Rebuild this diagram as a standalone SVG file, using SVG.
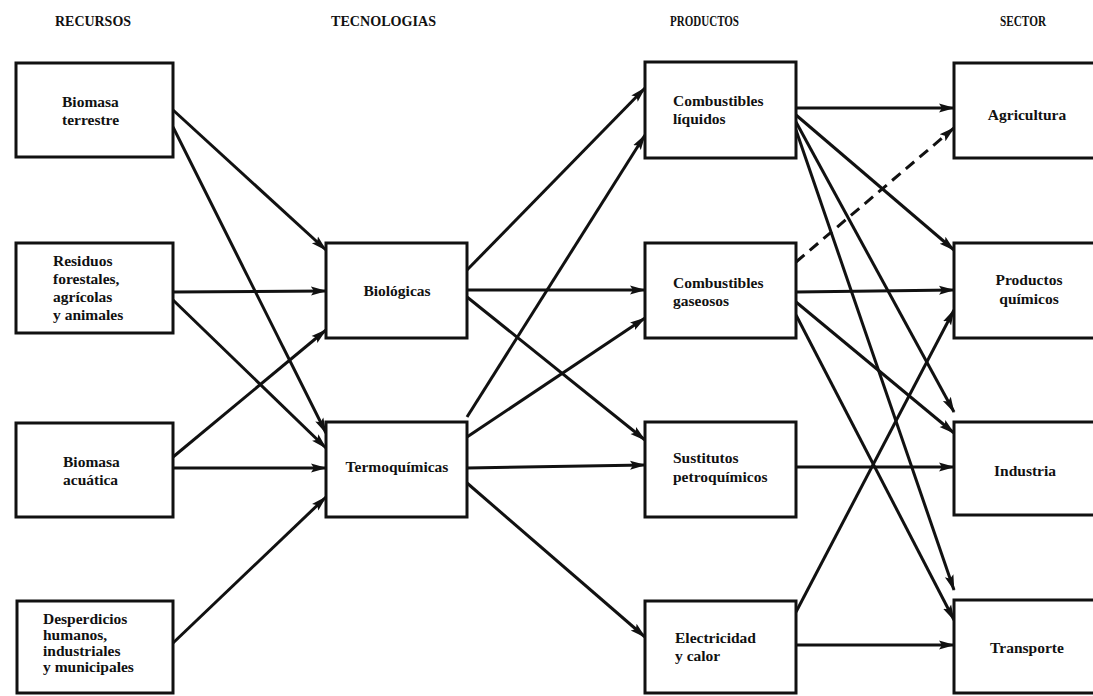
<svg xmlns="http://www.w3.org/2000/svg" width="1093" height="696" viewBox="0 0 1093 696">
<defs>
<marker id="ah" markerUnits="userSpaceOnUse" markerWidth="18" markerHeight="12" refX="15" refY="6" orient="auto">
<path d="M0,1.5 L16,6 L0,10.5 L3,6 z" fill="#111"/>
</marker>
<style>
.box{fill:#fff;stroke:#111;stroke-width:3}
.t{font-family:"Liberation Serif","Times New Roman",serif;font-weight:bold;font-size:15.5px;fill:#111}
.h{font-family:"Liberation Serif","Times New Roman",serif;font-weight:bold;font-size:14.5px;fill:#111}
.c{text-anchor:middle}
.ln{stroke:#111;stroke-width:3;fill:none;marker-end:url(#ah)}
.dash{stroke-dasharray:11 7}
</style>
</defs>
<rect width="1093" height="696" fill="#fff"/>
<g id="headers">
<text class="h" x="55" y="26" textLength="76" lengthAdjust="spacingAndGlyphs">RECURSOS</text>
<text class="h" x="331" y="26" textLength="105" lengthAdjust="spacingAndGlyphs">TECNOLOGIAS</text>
<text class="h" x="670" y="26" textLength="69" lengthAdjust="spacingAndGlyphs">PRODUCTOS</text>
<text class="h" x="1000" y="26" textLength="46" lengthAdjust="spacingAndGlyphs">SECTOR</text>
</g>
<g id="connectors">
<line class="ln" x1="173" y1="110" x2="326" y2="250"/>
<line class="ln" x1="173" y1="127" x2="326" y2="433"/>
<line class="ln" x1="173" y1="292" x2="326" y2="291"/>
<line class="ln" x1="173" y1="300" x2="326" y2="448"/>
<line class="ln" x1="173" y1="457" x2="326" y2="330"/>
<line class="ln" x1="173" y1="468" x2="326" y2="468"/>
<line class="ln" x1="173" y1="643" x2="326" y2="497"/>
<line class="ln" x1="467" y1="270" x2="645" y2="88"/>
<line class="ln" x1="467" y1="290" x2="645" y2="290"/>
<line class="ln" x1="467" y1="297" x2="645" y2="440"/>
<line class="ln" x1="467" y1="417" x2="645" y2="135"/>
<line class="ln" x1="467" y1="437" x2="645" y2="318"/>
<line class="ln" x1="467" y1="468" x2="645" y2="465"/>
<line class="ln" x1="467" y1="483" x2="645" y2="637"/>
<line class="ln" x1="796" y1="108" x2="954" y2="108"/>
<line class="ln" x1="796" y1="115" x2="954" y2="250"/>
<line class="ln" x1="796" y1="122" x2="954" y2="412"/>
<line class="ln" x1="796" y1="130" x2="954" y2="590"/>
<line class="ln dash" x1="796" y1="262" x2="954" y2="128"/>
<line class="ln" x1="796" y1="292" x2="954" y2="290"/>
<line class="ln" x1="796" y1="302" x2="954" y2="433"/>
<line class="ln" x1="796" y1="315" x2="954" y2="620"/>
<line class="ln" x1="796" y1="467" x2="954" y2="467"/>
<line class="ln" x1="796" y1="612" x2="954" y2="310"/>
<line class="ln" x1="796" y1="645" x2="954" y2="645"/>
</g>
<g id="n-biomasa-terrestre">
<rect class="box" x="16" y="63" width="157" height="94"/>
<text class="t" x="62" y="107">Biomasa</text>
<text class="t" x="62" y="125">terrestre</text>
</g>
<g id="n-residuos">
<rect class="box" x="16" y="243" width="157" height="90"/>
<text class="t" x="53" y="266">Residuos</text>
<text class="t" x="53" y="284">forestales,</text>
<text class="t" x="53" y="302">agrícolas</text>
<text class="t" x="53" y="320">y animales</text>
</g>
<g id="n-biomasa-acuatica">
<rect class="box" x="16" y="423" width="157" height="94"/>
<text class="t" x="63" y="467">Biomasa</text>
<text class="t" x="63" y="485">acuática</text>
</g>
<g id="n-desperdicios">
<rect class="box" x="17" y="601" width="156" height="92"/>
<text class="t" x="43" y="624">Desperdicios</text>
<text class="t" x="43" y="640">humanos,</text>
<text class="t" x="43" y="656">industriales</text>
<text class="t" x="43" y="672">y municipales</text>
</g>
<g id="n-biologicas">
<rect class="box" x="326" y="243" width="141" height="95"/>
<text class="t c" x="397" y="296">Biológicas</text>
</g>
<g id="n-termoquimicas">
<rect class="box" x="326" y="422" width="141" height="95"/>
<text class="t c" x="397" y="472">Termoquímicas</text>
</g>
<g id="n-comb-liquidos">
<rect class="box" x="645" y="62" width="151" height="96"/>
<text class="t" x="673" y="106">Combustibles</text>
<text class="t" x="673" y="124">líquidos</text>
</g>
<g id="n-comb-gaseosos">
<rect class="box" x="645" y="243" width="151" height="95"/>
<text class="t" x="673" y="288">Combustibles</text>
<text class="t" x="673" y="306">gaseosos</text>
</g>
<g id="n-sustitutos">
<rect class="box" x="645" y="422" width="151" height="95"/>
<text class="t" x="673" y="463">Sustitutos</text>
<text class="t" x="673" y="482">petroquímicos</text>
</g>
<g id="n-electricidad">
<rect class="box" x="645" y="601" width="151" height="92"/>
<text class="t" x="675" y="643">Electricidad</text>
<text class="t" x="675" y="661">y calor</text>
</g>
<g id="n-agricultura">
<rect class="box" x="954" y="63" width="150" height="95"/>
<text class="t c" x="1027" y="120">Agricultura</text>
</g>
<g id="n-productos-quimicos">
<rect class="box" x="954" y="243" width="150" height="95"/>
<text class="t c" x="1029" y="285">Productos</text>
<text class="t c" x="1029" y="304">químicos</text>
</g>
<g id="n-industria">
<rect class="box" x="954" y="422" width="150" height="93"/>
<text class="t c" x="1025" y="476">Industria</text>
</g>
<g id="n-transporte">
<rect class="box" x="954" y="600" width="150" height="93"/>
<text class="t c" x="1027" y="653">Transporte</text>
</g>
</svg>
